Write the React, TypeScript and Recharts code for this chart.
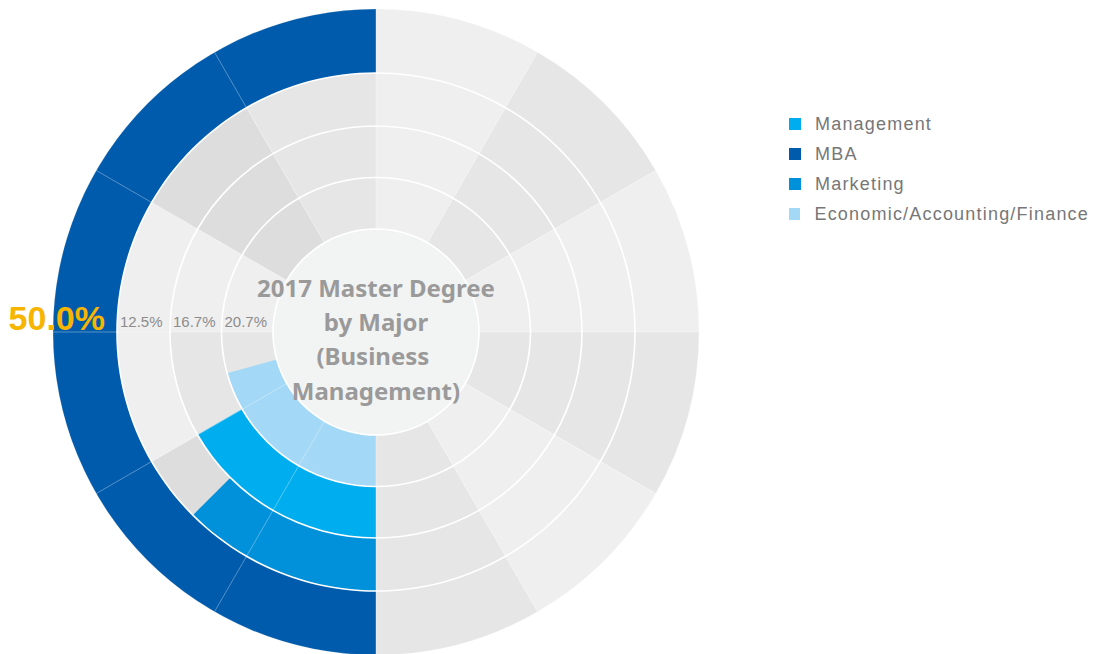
import { PieChart, Pie, Cell, Legend } from "recharts";

const categories = ["Management", "MBA", "Marketing", "Economic/Accounting/Finance"];
const shares = [16.7, 50.0, 12.5, 20.7];
const colors = ["#00aeef", "#005bac", "#0091da", "#a3d8f6"];

// rings, outside -> inside
const ringOrder = ["MBA", "Marketing", "Management", "Economic/Accounting/Finance"];

// 12 equal background slots per ring, clockwise from 12 o'clock
const slots = [1, 1, 1, 1, 1, 1, 1, 1, 1, 1, 1, 1];

const titleLines = ["2017 Master Degree", "by Major", "(Business ", "Management)"];

const L = "#efefef";
const D = "#e6e6e6";
const K = "#dcdddc";
const ringShades = [
  [L, D, L, D, L, D, L, D, L, D, L, D],
  [L, D, L, D, L, D, L, K, L, L, K, D],
  [L, D, L, D, L, D, L, K, D, L, K, D],
  [L, D, L, D, L, D, L, K, D, L, K, D],
];

const CX = 376;
const CY = 332;
const radii = [
  [259, 323],
  [206, 259],
  [154.5, 206],
  [103, 154.5],
];

export default function App() {
  const rings = ringOrder.map((name) => {
    const i = categories.indexOf(name);
    return { name, value: shares[i], color: colors[i] };
  });
  const top = Math.max(...shares);

  const renderRingLabel = (props: any) => {
    if (props.index !== 0) return null;
    const { cx, cy, innerRadius, outerRadius, value } = props;
    const text = `${Number(value).toFixed(1)}%`;
    if (value === top) {
      return (
        <text
          x={cx - innerRadius - 12}
          y={cy - 2}
          textAnchor="end"
          fill="#f7b500"
          fontSize={34}
          fontWeight="bold"
          fontFamily="'Liberation Sans', Arial, sans-serif"
        >
          {text}
        </text>
      );
    }
    return (
      <text
        x={cx - outerRadius + 3}
        y={cy - 5}
        textAnchor="start"
        fill="#8c8c8c"
        fontSize={15}
        fontFamily="'Liberation Sans', Arial, sans-serif"
      >
        {text}
      </text>
    );
  };

  const renderTitle = (props: any) => {
    const { cx, cy } = props;
    const offsets = [-35, -1, 33, 68];
    return (
      <text
        textAnchor="middle"
        fill="#9a9a9a"
        fontSize={24}
        fontWeight="bold"
        fontFamily="'Noto Sans', sans-serif"
        style={{ whiteSpace: "pre" }}
      >
        {titleLines.map((line, i) => (
          <tspan key={line} x={cx} y={cy + offsets[i]}>
            {line}
          </tspan>
        ))}
      </text>
    );
  };

  const renderLegend = () => (
    <div style={{ fontFamily: "'Liberation Sans', Arial, sans-serif" }}>
      {categories.map((c, i) => (
        <div key={c} style={{ display: "flex", alignItems: "center", height: 30 }}>
          <span
            style={{
              display: "inline-block",
              width: 12,
              height: 12,
              background: colors[i],
              marginRight: 14,
            }}
          />
          <span style={{ fontSize: 18, color: "#777", letterSpacing: 1.2 }}>{c}</span>
        </div>
      ))}
    </div>
  );

  return (
    <div style={{ position: "absolute", left: 0, top: 0, width: 1097, height: 654, background: "#fff" }}>
      <PieChart width={1097} height={654} margin={{ top: 0, right: 0, bottom: 0, left: 0 }}>
        {rings.map((ring, r) => (
          <Pie
            key={`bg-${ring.name}`}
            data={slots.map((v) => ({ value: v }))}
            dataKey="value"
            cx={CX}
            cy={CY}
            innerRadius={radii[r][0]}
            outerRadius={radii[r][1]}
            startAngle={90}
            endAngle={-270}
            stroke="none"
            isAnimationActive={false}
          >
            {slots.map((_, i) => (
              <Cell key={i} fill={ringShades[r][i]} />
            ))}
          </Pie>
        ))}

        {rings.map((ring, r) => (
          <Pie
            key={`val-${ring.name}`}
            data={[
              { name: ring.name, value: ring.value },
              { name: "rest", value: 100 - ring.value },
            ]}
            dataKey="value"
            cx={CX}
            cy={CY}
            innerRadius={radii[r][0]}
            outerRadius={radii[r][1]}
            startAngle={-90}
            endAngle={-450}
            stroke="none"
            label={renderRingLabel}
            labelLine={false}
            isAnimationActive={false}
          >
            <Cell fill={ring.color} />
            <Cell fill="transparent" />
          </Pie>
        ))}

        <Pie
          data={slots.map((v) => ({ value: v }))}
          dataKey="value"
          cx={CX}
          cy={CY}
          innerRadius={103}
          outerRadius={323}
          startAngle={90}
          endAngle={-270}
          fill="none"
          stroke="#ffffff"
          strokeOpacity={0.3}
          strokeWidth={0.6}
          isAnimationActive={false}
        />

        <Pie
          data={[{ value: 1 }]}
          dataKey="value"
          cx={CX}
          cy={CY}
          innerRadius={0}
          outerRadius={103}
          fill="#f2f3f3"
          stroke="none"
          label={renderTitle}
          labelLine={false}
          isAnimationActive={false}
        />

        {radii.map(([inner]) => (
          <Pie
            key={`sep-${inner}`}
            data={[{ value: 1 }]}
            dataKey="value"
            cx={CX}
            cy={CY}
            innerRadius={inner - 0.8}
            outerRadius={inner + 0.8}
            fill="#ffffff"
            stroke="none"
            isAnimationActive={false}
          />
        ))}

        <Legend
          layout="vertical"
          align="right"
          verticalAlign="top"
          content={renderLegend}
          wrapperStyle={{ left: 789, top: 109, width: 300 }}
        />
      </PieChart>
    </div>
  );
}
